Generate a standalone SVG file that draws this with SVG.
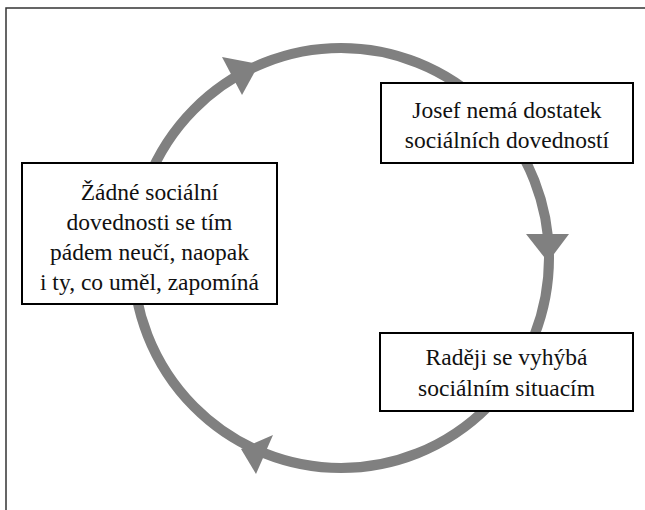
<svg xmlns="http://www.w3.org/2000/svg" width="645" height="510" viewBox="0 0 645 510">
<style>
.box{fill:#fff;stroke:#000;stroke-width:2}
.t{font-family:"Liberation Serif","DejaVu Serif","Noto Serif",Tinos,"Times New Roman","Nimbus Roman","FreeSerif",Georgia,serif;font-size:23.5px;fill:#111;text-anchor:middle}
.ring{fill:none;stroke:#808080;stroke-width:10}
.head{fill:#808080}
.frame{stroke:#333;stroke-width:1.5;fill:none}
</style>
<rect width="645" height="510" fill="#fff"/>
<path class="frame" d="M6 510 V8 H645"/>
<g id="connectors">
<ellipse class="ring" cx="341" cy="258" rx="208" ry="210"/>
<polygon class="head" points="222,57 242,95 259,64"/>
<polygon class="head" points="526,234 569,234 548,262"/>
<polygon class="head" points="273,435 256,474 241,449"/>
</g>
<g id="node-josef">
<rect class="box" x="381" y="83" width="252" height="80"/>
<text class="t" x="507" y="118">Josef nemá dostatek</text>
<text class="t" x="507" y="148">sociálních dovedností</text>
</g>
<g id="node-vyhyba">
<rect class="box" x="380" y="333" width="253" height="78"/>
<text class="t" x="506.5" y="365">Raději se vyhýbá</text>
<text class="t" x="506.5" y="396">sociálním situacím</text>
</g>
<g id="node-zadne">
<rect class="box" x="22" y="163" width="255" height="141"/>
<text class="t" x="149.5" y="200">Žádné sociální</text>
<text class="t" x="149.5" y="230">dovednosti se tím</text>
<text class="t" x="149.5" y="260">pádem neučí, naopak</text>
<text class="t" x="149.5" y="290">i ty, co uměl, zapomíná</text>
</g>
</svg>
